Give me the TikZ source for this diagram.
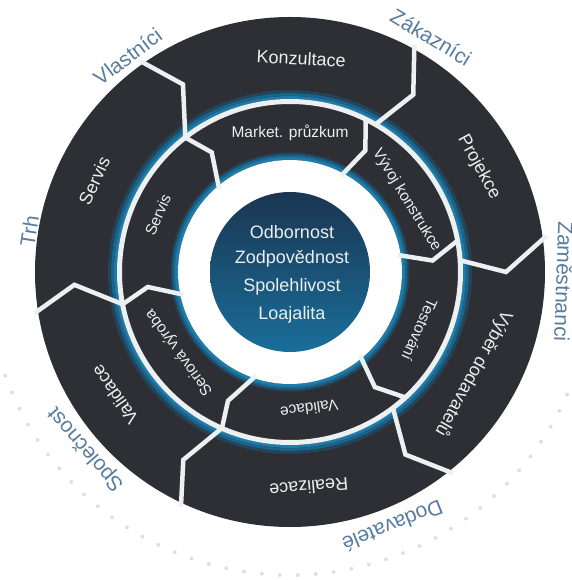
\documentclass[tikz,border=0pt]{standalone}
\usepackage{fontspec}
\setmainfont{Liberation Sans}
\definecolor{segdark}{RGB}{45,47,53}
\definecolor{tealA}{RGB}{30,124,170}
\definecolor{tealB}{RGB}{26,100,140}
\definecolor{tealC}{RGB}{36,68,90}
\definecolor{gapwhite}{RGB}{236,240,240}
\definecolor{segtext}{RGB}{236,238,240}
\definecolor{outblue}{RGB}{88,124,160}
\definecolor{discTop}{RGB}{26,54,80}
\definecolor{discBot}{RGB}{26,110,155}
\definecolor{dotgrey}{RGB}{222,224,226}
\begin{document}
\begin{tikzpicture}[x=1pt,y=1pt,
  seglbl/.style={text=segtext,font=\fontsize{18}{18}\selectfont,inner sep=0pt},
  midlbl/.style={text=segtext,font=\fontsize{15.5}{15.5}\selectfont,inner sep=0pt},
  outlbl/.style={text=outblue,font=\fontsize{21}{21}\selectfont,inner sep=0pt},
  ctrlbl/.style={text=segtext,font=\fontsize{18}{18}\selectfont,inner sep=0pt},
  gapline/.style={draw=gapwhite,line width=4.5pt,line join=miter,line cap=butt}]
\useasboundingbox (-290,-308) rectangle (281,272);
% faint dotted arc below the wheel
\draw[dotgrey,line width=4pt,line cap=round,dash pattern=on 0pt off 18pt] (200:303) arc[start angle=200,end angle=338,radius=303];
% outer disc
\fill[segdark] (0,0) circle (255);
% outer ring teal band
\draw[tealA,line width=3pt] (0,0) circle (174.5);
\draw[tealB,line width=3pt] (0,0) circle (177.5);
\draw[tealC,line width=3pt] (0,0) circle (180.5);
% gap between rings
\draw[gapwhite,line width=5pt] (0,0) circle (170.5);
% middle ring teal band
\draw[tealC,line width=2pt] (0,0) circle (118.5);
\draw[tealB,line width=3pt] (0,0) circle (116);
\draw[tealA,line width=3pt] (0,0) circle (113.5);
% white annulus and centre disc
\fill[white] (0,0) circle (112);
\shade[top color=discTop,bottom color=discBot] (0,0) circle (80);
% outer ring boundaries
\foreach \a/\b/\c in {125.4/119.7/128, 61.3/55.2/60, 8/0/4, -51/-57.7/-52.8, 245.1/240.4/246.5, 189.2/183.4/191}
  \draw[gapline] (\a:259) -- (\b:216) -- (\c:170);
% middle ring boundaries
\foreach \a/\b/\c in {128/123.2/130.5, 63.7/58.2/62, 10.7/4.6/9, -47.3/-53.6/-50, 246.5/244.3/251.9, 191/186/192}
  \draw[gapline] (\a:171) -- (\b:143) -- (\c:109);
% outer ring labels
\node[seglbl,rotate=-3] (konz) at (87:214) {Konzultace};
\node[seglbl,rotate=-61] (proj) at (29:216) {Projekce};
\node[seglbl,rotate=-119] (vyber) at (-29:210) {Výběr dodavatelů};
\node[seglbl,rotate=-175] (real) at (-85:216) {Realizace};
\node[seglbl,rotate=125] (valo) at (215:214) {Validace};
\node[seglbl,rotate=65] (servo) at (155:216) {Servis};
% middle ring labels
\node[midlbl,rotate=0] (mark) at (90:139) {Market. průzkum};
\node[midlbl,rotate=-58.4] (vyvoj) at (31.6:137) {Vývoj konstrukce};
\node[midlbl,rotate=-114] (test) at (-24:142) {Testování};
\node[midlbl,rotate=-172] (vali) at (-82:138) {Validace};
\node[midlbl,rotate=126] (seri) at (216:137) {Seriová výroba};
\node[midlbl,rotate=66.6] (servi) at (156.6:144) {Servis};
% centre text
\node[ctrlbl] (c1) at (2,40) {Odbornost};
\node[ctrlbl] (c2) at (2,13) {Zodpovědnost};
\node[ctrlbl] (c3) at (2,-15) {Spolehlivost};
\node[ctrlbl] (c4) at (2,-43) {Loajalita};
% outside labels
\node[outlbl,rotate=37] (vlast) at (127:270) {Vlastníci};
\node[outlbl,rotate=-31] (zak) at (59:274) {Zákazníci};
\node[outlbl,rotate=-92] (zam) at (-2:274) {Zaměstnanci};
\node[outlbl,rotate=-158] (dod) at (-68:274) {Dodavatelé};
\node[outlbl,rotate=131] (spol) at (221:270) {Společnost};
\node[outlbl,rotate=81] (trh) at (171:264) {Trh};
\end{tikzpicture}
\end{document}
